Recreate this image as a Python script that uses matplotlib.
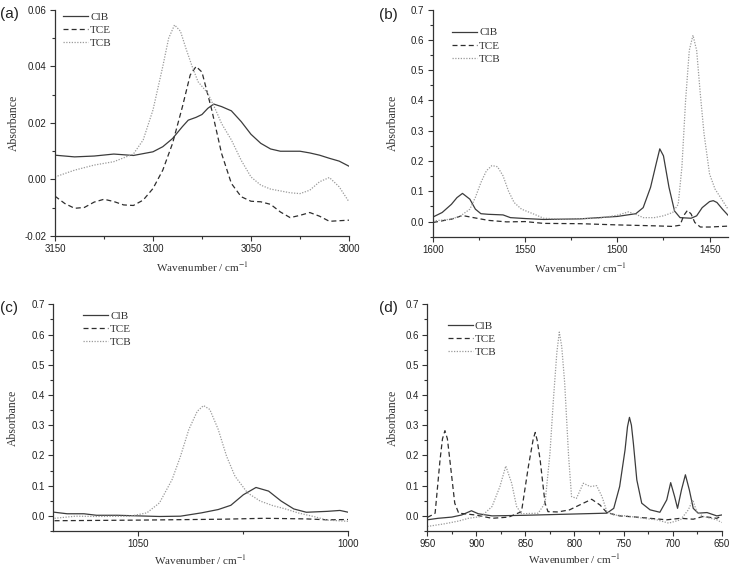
import matplotlib
matplotlib.use("Agg")
import matplotlib.pyplot as plt
from matplotlib.ticker import MultipleLocator, FormatStrFormatter

plt.rcParams['axes.unicode_minus'] = False
plt.rcParams['mathtext.fontset'] = 'stix'

series_names = ['ClB', 'TCE', 'TCB']

# (a) 3150-3000 cm-1
a_clb_x = [3150, 3140, 3130, 3120, 3110, 3100, 3095, 3090, 3085, 3082, 3078, 3075, 3072, 3069, 3065, 3060,
           3055, 3050, 3045, 3040, 3035, 3025, 3020, 3015, 3010, 3005, 3000]
a_clb_y = [0.0086, 0.0080, 0.0083, 0.0090, 0.0085, 0.0098, 0.0116, 0.0145, 0.0187, 0.0210, 0.0220, 0.0230,
           0.0252, 0.0267, 0.0258, 0.0243, 0.0205, 0.0160, 0.0128, 0.0108, 0.0100, 0.0100, 0.0094, 0.0086,
           0.0075, 0.0065, 0.0047]
a_tce_x = [3150, 3145, 3140, 3135, 3130, 3125, 3120, 3115, 3110, 3105, 3100, 3095, 3090, 3085, 3081, 3078,
           3075, 3070, 3065, 3060, 3055, 3050, 3045, 3040, 3035, 3030, 3025, 3020, 3015, 3010, 3005, 3000]
a_tce_y = [-0.0059, -0.0085, -0.0102, -0.0099, -0.0080, -0.0070, -0.0078, -0.0090, -0.0092, -0.0073, -0.0032,
           0.0033, 0.0128, 0.0257, 0.0370, 0.0400, 0.0380, 0.0246, 0.0092, -0.0014, -0.0061, -0.0077, -0.0079,
           -0.0088, -0.0115, -0.0135, -0.0127, -0.0117, -0.0130, -0.0148, -0.0146, -0.0144]
a_tcb_x = [3150, 3140, 3130, 3120, 3110, 3105, 3100, 3095, 3092, 3089, 3086, 3083, 3080, 3077, 3072, 3068,
           3065, 3060, 3055, 3050, 3045, 3040, 3030, 3025, 3020, 3015, 3010, 3005, 3000]
a_tcb_y = [0.0009, 0.0033, 0.0051, 0.0063, 0.0090, 0.0140, 0.0246, 0.0400, 0.0500, 0.0547, 0.0525, 0.0460,
           0.0400, 0.0346, 0.0305, 0.0246, 0.0198, 0.0140, 0.0068, 0.0009, -0.0020, -0.0034, -0.0047, -0.0050,
           -0.0038, -0.0008, 0.0007, -0.0026, -0.0079]

# (b) 1600-1440 cm-1
b_clb_x = [1600, 1595, 1590, 1587, 1584, 1580, 1577, 1574, 1570, 1562, 1558, 1550, 1540, 1520, 1500, 1490,
           1486, 1482, 1479, 1477, 1475, 1472, 1469, 1466, 1460, 1457, 1454, 1450, 1448, 1446, 1443, 1440]
b_clb_y = [0.015, 0.030, 0.057, 0.079, 0.093, 0.074, 0.041, 0.026, 0.024, 0.022, 0.013, 0.010, 0.007, 0.009,
           0.017, 0.026, 0.046, 0.113, 0.190, 0.240, 0.217, 0.113, 0.035, 0.013, 0.011, 0.019, 0.046, 0.066,
           0.069, 0.063, 0.041, 0.021]
b_tce_x = [1600, 1590, 1584, 1578, 1570, 1560, 1550, 1540, 1520, 1500, 1480, 1470, 1466, 1464, 1462, 1460,
           1458, 1455, 1450, 1440]
b_tce_y = [-0.003, 0.008, 0.020, 0.013, 0.004, -0.001, 0.000, -0.006, -0.007, -0.011, -0.014, -0.016, -0.012,
           0.020, 0.037, 0.025, -0.003, -0.018, -0.018, -0.015]
b_tcb_x = [1600, 1590, 1585, 1580, 1577, 1574, 1571, 1568, 1565, 1562, 1559, 1556, 1552, 1545, 1540, 1530,
           1510, 1500, 1494, 1490, 1486, 1480, 1475, 1470, 1467, 1465, 1463, 1461, 1459, 1457, 1455, 1453,
           1450, 1447, 1444, 1440]
b_tcb_y = [0.002, 0.008, 0.019, 0.041, 0.080, 0.129, 0.168, 0.185, 0.181, 0.151, 0.100, 0.063, 0.041, 0.024,
           0.011, 0.008, 0.011, 0.021, 0.032, 0.024, 0.013, 0.013, 0.019, 0.030, 0.057, 0.180, 0.400, 0.565,
           0.615, 0.565, 0.420, 0.290, 0.157, 0.107, 0.079, 0.041]

# (c) 1070-1000 cm-1
c_clb_x = [1070, 1067, 1063, 1060, 1055, 1050, 1045, 1040, 1035, 1031, 1028, 1025, 1022, 1019, 1016, 1013,
           1010, 1005, 1002, 1000]
c_clb_y = [0.012, 0.007, 0.007, 0.002, 0.002, 0.000, -0.002, -0.001, 0.010, 0.021, 0.035, 0.070, 0.094,
           0.082, 0.049, 0.023, 0.012, 0.015, 0.018, 0.012]
c_tce_x = [1070, 1050, 1030, 1020, 1010, 1005, 1000]
c_tce_y = [-0.016, -0.014, -0.011, -0.008, -0.010, -0.013, -0.012]
c_tcb_x = [1070, 1065, 1060, 1052, 1048, 1045, 1042, 1040, 1038, 1036, 1034.5, 1033, 1031, 1029, 1027, 1024,
           1021, 1018, 1015, 1012, 1008, 1005, 1000]
c_tcb_y = [-0.008, -0.001, -0.002, -0.001, 0.010, 0.043, 0.120, 0.197, 0.286, 0.346, 0.365, 0.352, 0.286,
           0.197, 0.131, 0.076, 0.049, 0.034, 0.023, 0.010, -0.003, -0.014, -0.018]

# (d) 950-650 cm-1
d_clb_x = [950, 939, 925, 915, 905, 898, 884, 850, 803, 767, 760, 754, 748.5, 746, 744, 742, 740, 736.5,
           731.5, 723, 713, 706, 702, 698, 695, 691, 687, 683, 679, 674, 665, 655, 650]
d_clb_y = [-0.013, -0.008, -0.004, 0.003, 0.017, 0.007, 0.000, 0.002, 0.006, 0.009, 0.025, 0.097, 0.218,
           0.295, 0.326, 0.300, 0.240, 0.119, 0.042, 0.020, 0.012, 0.053, 0.110, 0.064, 0.025, 0.086, 0.136,
           0.086, 0.025, 0.009, 0.011, 0.000, 0.003]
d_tce_x = [950, 945, 942, 937, 934.5, 932, 929.5, 927, 922, 918, 901, 884, 867, 854, 847, 842, 840, 838, 835,
           830, 827, 817, 805, 791, 782.5, 774, 767, 754, 737, 706, 692, 679, 669, 655, 650]
d_tce_y = [-0.005, 0.003, 0.009, 0.185, 0.255, 0.282, 0.255, 0.185, 0.042, 0.009, 0.003, -0.008, -0.004,
           0.014, 0.163, 0.255, 0.276, 0.250, 0.185, 0.042, 0.014, 0.013, 0.020, 0.042, 0.055, 0.036, 0.011,
           0.000, -0.004, -0.013, -0.008, -0.011, -0.002, -0.008, 0.000]
d_tcb_x = [950, 932, 918, 908, 895, 884, 876, 870, 864, 859, 854, 837, 830, 825, 821.5, 818, 815.5, 813,
           810, 806, 803, 798, 791, 784, 777.5, 772, 767, 760, 747, 730, 716, 704, 692, 684, 679.5, 675.5, 669,
           655, 650]
d_tcb_y = [-0.035, -0.026, -0.017, -0.008, -0.002, 0.031, 0.097, 0.165, 0.108, 0.031, 0.007, 0.009, 0.042,
           0.207, 0.384, 0.540, 0.608, 0.560, 0.440, 0.197, 0.064, 0.058, 0.108, 0.097, 0.100, 0.064, 0.014,
           0.003, 0.000, -0.008, -0.013, -0.024, -0.013, 0.020, 0.053, 0.014, -0.002, -0.013, -0.022]

SERIF = 'Liberation Serif'
SANS = 'Liberation Sans'
AX_COLOR = '#333333'


def draw_panel(ax, data, xlim, ylim, xmajor, ymajor, yfmt, legend_pos, ylabel_x, xlabel_y):
    styles = [dict(color='#3c3c3c', ls='-'),
              dict(color='#2e2e2e', ls=(0, (4, 2.5))),
              dict(color='#9a9a9a', ls=(0, (1, 1.2)))]
    for (x, y), name, st in zip(data, series_names, styles):
        ax.plot(x, y, lw=0.9, label=name, **st)

    ax.set_xlim(*xlim)
    ax.set_ylim(*ylim)
    ax.xaxis.set_major_locator(MultipleLocator(xmajor))
    ax.xaxis.set_minor_locator(MultipleLocator(xmajor / 2))
    ax.yaxis.set_major_locator(MultipleLocator(ymajor))
    ax.yaxis.set_minor_locator(MultipleLocator(ymajor / 2))
    ax.yaxis.set_major_formatter(FormatStrFormatter(yfmt))

    for side in ['top', 'right']:
        ax.spines[side].set_visible(False)
    for side in ['left', 'bottom']:
        ax.spines[side].set_color(AX_COLOR)
        ax.spines[side].set_linewidth(0.9)
    ax.tick_params(which='both', direction='out', color=AX_COLOR, width=0.8)
    ax.tick_params(which='major', length=3.6, pad=2.5, labelsize=7, labelcolor='#222222')
    ax.tick_params(which='minor', length=2.2)
    for lab in ax.get_xticklabels() + ax.get_yticklabels():
        lab.set_family(SANS)

    ax.set_xlabel('Wavenumber / cm$^{-1}$', family=SERIF, fontsize=8, color='#333333')
    ax.set_ylabel('Absorbance', family=SERIF, fontsize=8.5, color='#333333')
    ax.xaxis.set_label_coords(0.5, xlabel_y)
    ax.yaxis.set_label_coords(ylabel_x, 0.5)

    leg = ax.legend(loc='upper left', bbox_to_anchor=legend_pos, frameon=False, borderpad=0,
                    borderaxespad=0, handlelength=2.3, handletextpad=0.15, labelspacing=0.3,
                    prop={'family': SERIF, 'size': 8})
    for t in leg.get_texts():
        t.set_color('#333333')


fig = plt.figure(figsize=(7.31, 5.67), dpi=100)

ax_a = fig.add_axes([0.0752, 0.5838, 0.4022, 0.3986])
draw_panel(ax_a, [(a_clb_x, a_clb_y), (a_tce_x, a_tce_y), (a_tcb_x, a_tcb_y)],
           (3150, 3000), (-0.02, 0.06), 50, 0.02, '%.2f', (0.027, 0.99), -0.119, -0.105)

ax_b = fig.add_axes([0.5923, 0.5825, 0.4036, 0.4007])
draw_panel(ax_b, [(b_clb_x, b_clb_y), (b_tce_x, b_tce_y), (b_tcb_x, b_tcb_y)],
           (1600, 1440), (-0.05, 0.7), 50, 0.1, '%.1f', (0.064, 0.92), -0.115, -0.108)

ax_c = fig.add_axes([0.0729, 0.0635, 0.4036, 0.3998])
draw_panel(ax_c, [(c_clb_x, c_clb_y), (c_tce_x, c_tce_y), (c_tcb_x, c_tcb_y)],
           (1070.3, 1000), (-0.05, 0.7), 50, 0.1, '%.1f', (0.10, 0.97), -0.115, -0.098)

ax_d = fig.add_axes([0.5845, 0.0635, 0.4028, 0.3998])
draw_panel(ax_d, [(d_clb_x, d_clb_y), (d_tce_x, d_tce_y), (d_tcb_x, d_tcb_y)],
           (950, 650), (-0.05, 0.7), 50, 0.1, '%.1f', (0.069, 0.925), -0.096, -0.092)

# panel letters
for (px, py), letter in zip([(9, 14), (388, 15), (9, 308), (388, 308)], ['(a)', '(b)', '(c)', '(d)']):
    fig.text(px / 731, 1 - py / 567, letter, family=SANS, fontsize=11, color='#222222',
             ha='center', va='center')

fig.savefig('out.png', dpi=100)
